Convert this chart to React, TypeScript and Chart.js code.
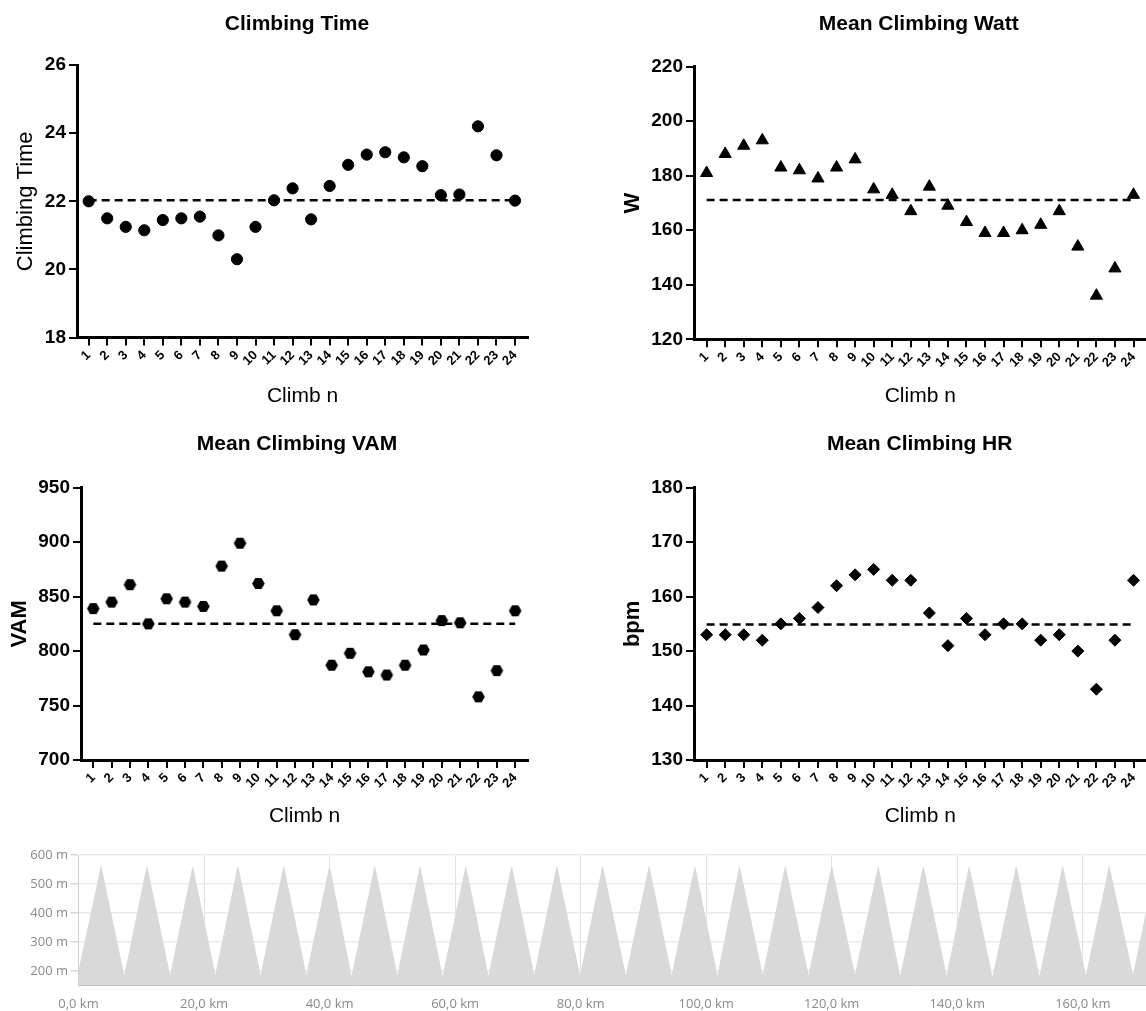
import React, { useEffect, useRef } from 'react';
import { Chart, registerables } from 'chart.js';

Chart.register(...registerables);

// ---------------- data ----------------
const climbNumbers = [1, 2, 3, 4, 5, 6, 7, 8, 9, 10, 11, 12, 13, 14, 15, 16, 17, 18, 19, 20, 21, 22, 23, 24];

const climbingTime = [22.0, 21.5, 21.25, 21.15, 21.45, 21.5, 21.55, 21.0, 20.3, 21.25, 22.03, 22.38, 21.47, 22.45, 23.07, 23.37, 23.44, 23.29, 23.03, 22.18, 22.2, 24.2, 23.35, 22.02];
const climbingTimeRef = 22.03;

const meanWatt = [181, 188, 191, 193, 183, 182, 179, 183, 186, 175, 173, 167, 176, 169, 163, 159, 159, 160, 162, 167, 154, 136, 146, 173];
const meanWattRef = 171.1;

const meanVam = [839, 845, 861, 825, 848, 845, 841, 878, 899, 862, 837, 815, 847, 787, 798, 781, 778, 787, 801, 828, 826, 758, 782, 837];
const meanVamRef = 825;

const meanHr = [153, 153, 153, 152, 155, 156, 158, 162, 164, 165, 163, 163, 157, 151, 156, 153, 155, 155, 152, 153, 150, 143, 152, 163];
const meanHrRef = 154.9;

// elevation profile (km / m)
const elevationTicksM = [200, 300, 400, 500, 600];
const distanceTicksKm = [0, 20, 40, 60, 80, 100, 120, 140, 160];
const startKm = 0;
const startM = 195;
const peakKm = [3.6, 10.9, 18.2, 25.4, 32.7, 40.0, 47.2, 54.4, 61.7, 69.0, 76.2, 83.5, 90.9, 98.2, 105.3, 112.6, 120.0, 127.4, 134.6, 141.9, 149.4, 156.8, 164.2, 171.6];
const peakM = [558, 558, 557, 558, 558, 558, 558, 557, 558, 558, 558, 558, 558, 557, 558, 558, 558, 558, 558, 557, 558, 558, 558, 558];
const troughKm = [7.3, 14.6, 21.8, 29.0, 36.3, 43.5, 50.8, 58.0, 65.3, 72.6, 79.9, 87.2, 94.5, 101.8, 109.0, 116.3, 123.7, 130.9, 138.3, 145.6, 153.1, 160.5, 168.0, 175.3];
const troughM = [177, 180, 180, 180, 180, 175, 180, 175, 177, 180, 177, 178, 180, 178, 180, 180, 180, 175, 178, 172, 175, 178, 180, 178];

// ---------------- styling ----------------
const FONT = '"Liberation Sans", Arial, Helvetica, sans-serif';
const UI_FONT = '"Open Sans", "Noto Sans", sans-serif';

const panelTitlePlugin = {
  id: 'panelTitle',
  afterDraw(chart: any, _args: any, opts: any) {
    if (!opts || !opts.text) return;
    const ctx = chart.ctx;
    ctx.save();
    ctx.font = opts.font;
    ctx.fillStyle = '#000';
    ctx.textAlign = 'center';
    ctx.textBaseline = 'middle';
    ctx.fillText(opts.text, opts.x, opts.y);
    ctx.restore();
  },
};

function makeHexagon(r: number) {
  const size = Math.ceil(r * 2 + 2);
  const c = document.createElement('canvas');
  c.width = size;
  c.height = size;
  const g = c.getContext('2d')!;
  g.fillStyle = '#000';
  g.beginPath();
  for (let k = 0; k < 6; k++) {
    const a = (Math.PI / 3) * k;
    const px = size / 2 + r * Math.cos(a);
    const py = size / 2 + r * Math.sin(a);
    if (k === 0) g.moveTo(px, py);
    else g.lineTo(px, py);
  }
  g.closePath();
  g.fill();
  return c;
}

type PanelCfg = {
  left: number;
  top: number;
  title: string;
  titleX: number;
  yTitle: string;
  yTitleBold: boolean;
  yTitlePad: number;
  values: number[];
  refValue: number;
  yMin: number;
  yMax: number;
  yStep: number;
  plotL: number;
  plotT: number;
  plotB: number;
  plotR: number;
  xMin: number;
  marker: string;
  radius: number;
};

const CW = 560;
const CH = 420;
const X_MAX = 24.7;

function buildScatterConfig(p: PanelCfg): any {
  const pointStyle: any = p.marker === 'hexagon' ? makeHexagon(p.radius) : p.marker;
  return {
    type: 'scatter',
    data: {
      datasets: [
        {
          type: 'scatter',
          data: p.values.map((v, i) => ({ x: climbNumbers[i], y: v })),
          pointStyle,
          pointRadius: p.radius,
          backgroundColor: '#000',
          borderColor: '#000',
          borderWidth: p.marker === 'hexagon' ? 0 : 1,
          order: 0,
        },
        {
          type: 'line',
          data: [
            { x: climbNumbers[0], y: p.refValue },
            { x: climbNumbers[climbNumbers.length - 1], y: p.refValue },
          ],
          borderColor: '#000',
          borderWidth: 2.5,
          borderDash: [8, 5],
          pointRadius: 0,
          fill: false,
          order: 1,
        },
      ],
    },
    options: {
      animation: false,
      responsive: false,
      events: [],
      layout: { padding: { top: p.plotT, right: CW - p.plotR, left: 0, bottom: 0 } },
      plugins: {
        legend: { display: false },
        tooltip: { enabled: false },
        panelTitle: { text: p.title, x: p.titleX, y: 24, font: `bold 21px ${FONT}` },
      },
      scales: {
        x: {
          type: 'linear',
          min: p.xMin,
          max: X_MAX,
          afterBuildTicks: (s: any) => {
            s.ticks = climbNumbers.map((v) => ({ value: v }));
          },
          afterFit: (s: any) => {
            s.height = CH - p.plotB;
          },
          ticks: {
            autoSkip: false,
            minRotation: 45,
            maxRotation: 45,
            color: '#000',
            padding: 2,
            font: { family: FONT, size: 13, weight: 'bold' },
          },
          grid: {
            display: true,
            drawOnChartArea: false,
            drawTicks: true,
            tickLength: 8,
            color: '#000',
            lineWidth: 2,
          },
          border: { display: true, color: '#000', width: 3 },
          title: {
            display: true,
            text: 'Climb n',
            color: '#000',
            font: { family: FONT, size: 21 },
            padding: { top: 0, bottom: 10.7 },
          },
        },
        y: {
          min: p.yMin,
          max: p.yMax,
          afterFit: (s: any) => {
            s.width = p.plotL;
          },
          ticks: {
            stepSize: p.yStep,
            color: '#000',
            padding: 3,
            font: { family: FONT, size: 19, weight: 'bold' },
          },
          grid: {
            display: true,
            drawOnChartArea: false,
            drawTicks: true,
            tickLength: 8,
            color: '#000',
            lineWidth: 2,
          },
          border: { display: true, color: '#000', width: 3 },
          title: {
            display: true,
            text: p.yTitle,
            color: '#000',
            font: { family: FONT, size: 22, weight: p.yTitleBold ? 'bold' : 'normal' },
            padding: { top: p.yTitlePad, bottom: 0 },
          },
        },
      },
    },
    plugins: [panelTitlePlugin],
  };
}

const panels: PanelCfg[] = [
  {
    left: 0, top: 0, title: 'Climbing Time', titleX: 297,
    yTitle: 'Climbing Time', yTitleBold: false, yTitlePad: 12.6,
    values: climbingTime, refValue: climbingTimeRef, yMin: 18, yMax: 26, yStep: 2,
    plotL: 77, plotT: 65, plotB: 337.6, plotR: 528, xMin: 0.37, marker: 'circle', radius: 5.6,
  },
  {
    left: 616, top: 0, title: 'Mean Climbing Watt', titleX: 302.8,
    yTitle: 'W', yTitleBold: true, yTitlePad: 3.4,
    values: meanWatt, refValue: meanWattRef, yMin: 120, yMax: 220, yStep: 20,
    plotL: 78, plotT: 66.7, plotB: 339.3, plotR: 530.5, xMin: 0.32, marker: 'triangle', radius: 7,
  },
  {
    left: 0, top: 420, title: 'Mean Climbing VAM', titleX: 297,
    yTitle: 'VAM', yTitleBold: true, yTitlePad: 6.8,
    values: meanVam, refValue: meanVamRef, yMin: 700, yMax: 950, yStep: 50,
    plotL: 81, plotT: 67.7, plotB: 340, plotR: 528, xMin: 0.33, marker: 'hexagon', radius: 6.3,
  },
  {
    left: 616, top: 420, title: 'Mean Climbing HR', titleX: 303.7,
    yTitle: 'bpm', yTitleBold: true, yTitlePad: 4.2,
    values: meanHr, refValue: meanHrRef, yMin: 130, yMax: 180, yStep: 10,
    plotL: 78, plotT: 67.7, plotB: 340, plotR: 530.5, xMin: 0.32, marker: 'rectRot', radius: 6,
  },
];

function ScatterPanel({ cfg }: { cfg: PanelCfg }) {
  const ref = useRef<HTMLCanvasElement>(null);
  useEffect(() => {
    const chart = new Chart(ref.current as HTMLCanvasElement, buildScatterConfig(cfg));
    return () => chart.destroy();
  }, [cfg]);
  return (
    <canvas
      ref={ref}
      width={CW}
      height={CH}
      style={{ position: 'absolute', left: cfg.left, top: cfg.top, width: CW, height: CH }}
    />
  );
}

// ---------------- elevation profile ----------------
const EW = 1200;
const EH = 171;
const E_TOP = 840;
const E_PLOT_L = 78.5;
const E_PLOT_T = 15;
const E_PLOT_B = 145.7;
const E_KM_MAX = 178;
const E_PLOT_R = E_PLOT_L + E_KM_MAX * 6.277;

function ElevationProfile() {
  const ref = useRef<HTMLCanvasElement>(null);
  useEffect(() => {
    const points: { x: number; y: number }[] = [{ x: startKm, y: startM }];
    peakKm.forEach((km, i) => {
      points.push({ x: km, y: peakM[i] });
      points.push({ x: troughKm[i], y: troughM[i] });
    });
    const chart = new Chart(ref.current as HTMLCanvasElement, {
      type: 'line',
      data: {
        datasets: [
          {
            data: points,
            fill: 'start',
            backgroundColor: '#d9d9d9',
            borderColor: '#d9d9d9',
            borderWidth: 1,
            pointRadius: 0,
            tension: 0,
          },
        ],
      },
      options: {
        animation: false,
        responsive: false,
        events: [],
        layout: { padding: { top: E_PLOT_T, right: EW - E_PLOT_R, left: 0, bottom: 0 } },
        plugins: { legend: { display: false }, tooltip: { enabled: false } },
        scales: {
          x: {
            type: 'linear',
            min: 0,
            max: E_KM_MAX,
            z: 1,
            afterBuildTicks: (s: any) => {
              s.ticks = distanceTicksKm.map((v) => ({ value: v }));
            },
            afterFit: (s: any) => {
              s.height = EH - E_PLOT_B;
            },
            ticks: {
              autoSkip: false,
              maxRotation: 0,
              minRotation: 0,
              color: '#8a8a8a',
              padding: 10.5,
              font: { family: UI_FONT, size: 13 },
              callback: (v: any) => `${Number(v).toFixed(1).replace('.', ',')} km`,
            },
            grid: { color: '#e2e2e2', drawTicks: false, lineWidth: 1 },
            border: { display: true, color: '#b0b0b0', width: 1 },
          },
          y: {
            min: 150,
            max: 600,
            z: 1,
            afterBuildTicks: (s: any) => {
              s.ticks = elevationTicksM.map((v) => ({ value: v }));
            },
            afterFit: (s: any) => {
              s.width = E_PLOT_L;
            },
            ticks: {
              color: '#8a8a8a',
              padding: 2.5,
              font: { family: UI_FONT, size: 13 },
              callback: (v: any) => `${v} m`,
            },
            grid: { color: '#ebebeb', drawTicks: true, tickLength: 8, tickColor: '#d6d6d6', lineWidth: 1.5 },
            border: { display: true, color: '#cfcfcf', width: 1 },
          },
        },
      },
    } as any);
    return () => chart.destroy();
  }, []);
  return (
    <canvas
      ref={ref}
      width={EW}
      height={EH}
      style={{ position: 'absolute', left: 0, top: E_TOP, width: EW, height: EH }}
    />
  );
}

export default function App() {
  useEffect(() => {
    document.body.style.margin = '0';
    document.body.style.background = '#fff';
  }, []);
  return (
    <div
      style={{
        position: 'relative',
        width: 1146,
        height: 1011,
        overflow: 'hidden',
        background: '#fff',
      }}
    >
      {panels.map((p) => (
        <ScatterPanel key={p.title} cfg={p} />
      ))}
      <ElevationProfile />
    </div>
  );
}
